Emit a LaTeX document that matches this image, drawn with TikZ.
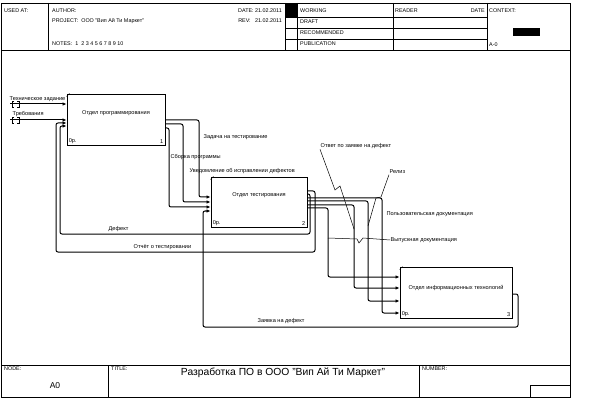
\documentclass[tikz,border=0pt]{standalone}
\usepackage{fontspec}
\setmainfont{Liberation Sans}
\usetikzlibrary{arrows.meta,calc}

\begin{document}
\begin{tikzpicture}[x=1pt,y=-1pt,
  box/.style={draw,rectangle,line width=0.9pt,inner sep=0pt},
  flow/.style={line width=1pt,rounded corners=2pt,-{Latex[length=4pt,width=3.5pt]}},
  lbl/.style={font=\fontsize{5.6}{6}\selectfont,inner sep=0.5pt,anchor=west},
  hdr/.style={font=\fontsize{5.4}{6}\selectfont,inner sep=0pt,anchor=west},
  leader/.style={line width=0.5pt},
  rule/.style={line width=0.7pt}]
\useasboundingbox (0,0) rectangle (594,414);
\fill[white] (0,0) rectangle (594,414);

%frame and header
\draw[rule] (1,3) rectangle (570,397);
\draw[rule] (1,50) -- (570,50);
\foreach \x in {48,285,297,393,487}{
  \draw[rule] (\x,3) -- (\x,50);
}
\foreach \y in {17,28,39}{
  \draw[rule] (285,\y) -- (487,\y);
}
\fill (285,3) rectangle (297,17);
\fill (513,28) rectangle (540,36);

\node[hdr] (usedat) at (4,11) {USED AT:};
\node[hdr] (author) at (52,11) {AUTHOR:};
\node[hdr] (project) at (52,21) {PROJECT:\ \ ООО "Вип Ай Ти Маркет"};
\node[hdr] (notes) at (52,44) {NOTES:\ \ 1\ \ 2\ 3\ 4\ 5\ 6\ 7\ 8\ 9\ 10};
\node[hdr,anchor=east] (date) at (282,11) {DATE:\ 21.02.2011};
\node[hdr,anchor=east] (rev) at (282,21) {REV:\ \ \ 21.02.2011};
\node[hdr] (working) at (300,11) {WORKING};
\node[hdr] (draft) at (300,22) {DRAFT};
\node[hdr] (recom) at (300,33) {RECOMMENDED};
\node[hdr] (publ) at (300,44) {PUBLICATION};
\node[hdr] (reader) at (395,11) {READER};
\node[hdr,anchor=east] (rdate) at (485,11) {DATE};
\node[hdr] (context) at (489,11) {CONTEXT:};
\node[hdr] (ctxnode) at (489,45) {A-0};

%footer
\draw[rule] (1,365) -- (570,365);
\draw[rule] (108,365) -- (108,397);
\draw[rule] (419,365) -- (419,397);
\draw[rule] (530,397) -- (530,385) -- (570,385);
\node[hdr] (nodelbl) at (4,368.5) {NODE:};
\node[hdr] (titlelbl) at (111,368.5) {TITLE:};
\node[hdr] (numberlbl) at (422,368.5) {NUMBER:};
\node[font=\fontsize{8.5}{9}\selectfont,inner sep=0pt] (nodeval) at (55,386) {A0};
\node[font=\fontsize{10.3}{11}\selectfont,inner sep=0pt] (title) at (283,373) {Разработка ПО в ООО "Вип Ай Ти Маркет"};

%activity boxes
\node (prog) at (116,119.5) [box,minimum width=98pt,minimum height=51pt] {};
\node (test) at (259,202) [box,minimum width=96pt,minimum height=50pt] {};
\node (it) at (456,292.5) [box,minimum width=112pt,minimum height=51pt] {};
\node[lbl,anchor=center] (progname) at ([yshift=6pt]prog.center) {Отдел программирования};
\node[lbl,anchor=center] (testname) at ([yshift=7pt]test.center) {Отдел тестирования};
\node[lbl,anchor=center] (itname) at ([yshift=4.5pt]it.center) {Отдел информационных технологий};
\foreach \b/\nb in {prog/1,test/2,it/3}{
  \draw[leader] ([yshift=-3pt]\b.north west) -- ([xshift=3pt]\b.north west);
  \node[lbl,anchor=south west] (\b-cost) at ([shift={(1.5pt,1.5pt)}]\b.south west) {0р.};
  \node[lbl,anchor=south east] (\b-num) at ([shift={(-1.5pt,1.5pt)}]\b.south east) {\nb};
}

%inputs from outside
\coordinate (tz) at (10,104);
\coordinate (tr) at (10,120);
\draw[flow] (tz) -- (prog.west |- tz);
\draw[flow] (tr) -- (prog.west |- tr);
\foreach \c in {104,120}{
  \draw[leader] (14,\c-3) -- (12,\c-3) -- (12,\c+3) -- (14,\c+3);
  \draw[leader] (17,\c-3) -- (19,\c-3) -- (19,\c+3) -- (17,\c+3);
}
\node[lbl] (tzlbl) at (9,99) {Техническое задание};
\node[lbl] (trlbl) at (12,114) {Требования};

%programming to testing
\draw[flow] (prog.east |- 0,120) -- (199,120) -- (199,197) -- (test.west |- 0,197);
\draw[flow] (prog.east |- 0,124) -- (183,124) -- (183,202) -- (test.west |- 0,202);
\draw[flow] (prog.east |- 0,128) -- (169,128) -- (169,207) -- (test.west |- 0,207);
\node[lbl] (task) at (203,137) {Задача на тестирование};
\node[lbl] (build) at (170,157) {Сборка программы};
\node[lbl] (notice) at (189,171) {Уведомление об исправлении дефектов};

%testing back to programming
\draw[flow] (test.east |- 0,191) -- (315,191) -- (315,252) -- (56,252) -- (56,123) -- (prog.west |- 0,123);
\draw[flow] (test.east |- 0,194) -- (310,194) -- (310,234) -- (60,234) -- (60,126) -- (prog.west |- 0,126);
\node[lbl] (defect) at (108,229) {Дефект};
\node[lbl] (report) at (133,247) {Отчёт о тестировании};

%testing to it
\draw[flow] (test.east |- 0,198) -- (382,198) -- (382,313) -- (it.west |- 0,313);
\draw[flow] (test.east |- 0,201) -- (368,201) -- (368,301) -- (it.west |- 0,301);
\draw[flow] (test.east |- 0,205) -- (354,205) -- (354,288) -- (it.west |- 0,288);
\draw[flow] (test.east |- 0,208) -- (328,208) -- (328,277) -- (it.west |- 0,277);
\node[lbl] (userdoc) at (386,214) {Пользовательская документация};
\node[lbl] (release) at (389,172) {Релиз};
\node[lbl] (answer) at (320,146) {Ответ по заявке на дефект};
\node[lbl] (reldoc) at (390,240) {Выпускная документация};
\coordinate (answer-end) at (354,229);
\coordinate (release-end) at (368,226);
\coordinate (reldoc-end) at (328,238);
\draw[leader] (answer.south west) -- (335,190) -- (340,186) -- (answer-end);
\draw[leader] (release.south west) -- (381,197) -- (376,198) -- (release-end);
\draw[leader] (reldoc.west) -- (363,238) -- (359,243) -- (357,239) -- (reldoc-end);

%it back to testing
\draw[flow] (it.east |- 0,294) -- (518,294) -- (518,327) -- (203,327) -- (203,211) -- (test.west |- 0,211);
\node[lbl] (request) at (257,321) {Заявка на дефект};
\end{tikzpicture}
\end{document}
